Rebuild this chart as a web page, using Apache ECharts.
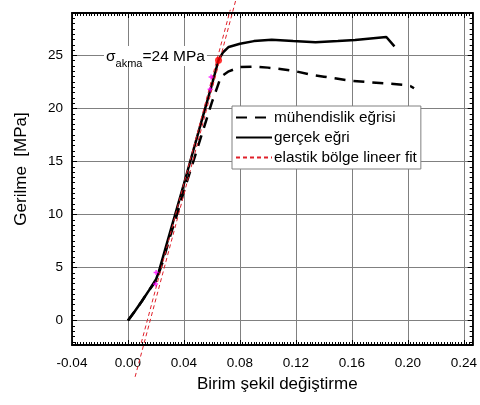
<!DOCTYPE html>
<html>
<head>
<meta charset="utf-8">
<script src="https://cdn.jsdelivr.net/npm/echarts@6/dist/echarts.min.js"></script>
<style>html,body{margin:0;padding:0;background:#fff;}#c{width:480px;height:405px;}</style>
</head>
<body>
<div id="c"></div>
<script>
// ---- data ----
const engStrain = [0, 0.005, 0.01, 0.015, 0.0203, 0.025, 0.03, 0.035, 0.04, 0.045, 0.05, 0.055, 0.06, 0.0635, 0.0664, 0.072, 0.08, 0.09, 0.1, 0.11, 0.12, 0.13, 0.14, 0.15, 0.16, 0.17, 0.18, 0.19, 0.198, 0.202, 0.2044];
const engStress = [0, 0.9, 1.85, 2.85, 3.8, 5.6, 7.9, 10.0, 12.2, 14.3, 16.4, 18.5, 20.6, 21.9, 23.0, 23.5, 23.9, 23.95, 23.85, 23.7, 23.5, 23.2, 23.0, 22.8, 22.6, 22.5, 22.4, 22.3, 22.2, 22.1, 21.9];
const trueStrain = [0, 0.005, 0.01, 0.015, 0.0201, 0.022, 0.03, 0.04, 0.05, 0.0605, 0.0647, 0.068, 0.072, 0.08, 0.09, 0.1027, 0.118, 0.134, 0.15, 0.1623, 0.1846, 0.1904];
const trueStress = [0, 0.9, 1.85, 2.85, 3.9, 4.6, 8.3, 12.9, 17.6, 22.5, 24.55, 25.3, 25.8, 26.1, 26.35, 26.48, 26.35, 26.25, 26.35, 26.45, 26.74, 25.85];
const fitAStrain = [0.0051, 0.0771];
const fitAStress = [-5.3, 30.25];
const fitBStrain = [0.0095, 0.0731];
const fitBStress = [-2.1, 29.3];
const yieldPoint = [0.0647, 24.55];
const fitRangeStrain = [0.0201, 0.0197, 0.0594, 0.0587];
const fitRangeStress = [4.53, 3.46, 22.96, 21.8];
const xTicks = [-0.04, 0.00, 0.04, 0.08, 0.12, 0.16, 0.20, 0.24];
const yTicks = [0, 5, 10, 15, 20, 25];
const seriesNames = ['mühendislik eğrisi', 'gerçek eğri', 'elastik bölge lineer fit'];
const xTitle = 'Birim şekil değiştirme';
const yTitle = 'Gerilme  [MPa]';

const pairs = (xs, ys) => xs.map((x, i) => [x, ys[i]]);
const FONT = 'Liberation Sans, Arial, sans-serif';
const X_MIN = -0.04, X_MAX = 0.2463, Y_MIN = -2.3, Y_MAX = 29.0;

function isTick(v, list) { return list.some(t => Math.abs(t - v) < 1e-6); }

const tickStyle = { show: true, inside: true, length: 5, lineStyle: { color: '#000', width: 1 } };
const minorX = { show: true, splitNumber: 20, length: 3, lineStyle: { color: '#000', width: 1 } };
const minorY = { show: true, splitNumber: 10, length: 3, lineStyle: { color: '#000', width: 1 } };
const axisLine = { show: true, onZero: false, lineStyle: { color: '#000', width: 1.8 } };

const option = {
  animation: false,
  backgroundColor: '#fff',
  grid: { left: 72, right: 0, top: 13, bottom: 60, containLabel: false },
  xAxis: [
    {
      type: 'value', min: X_MIN, max: X_MAX, interval: 0.04, position: 'bottom',
      axisLine: axisLine, axisTick: tickStyle, minorTick: minorX,
      splitLine: { show: true, lineStyle: { color: '#808080', width: 1 } },
      axisLabel: {
        show: true, margin: 11, color: '#000', fontFamily: FONT, fontSize: 13.5,
        formatter: v => isTick(v, xTicks) ? v.toFixed(2) : ''
      }
    },
    {
      type: 'value', min: X_MIN, max: X_MAX, interval: 0.04, position: 'top',
      axisLine: axisLine, axisTick: tickStyle, minorTick: minorX,
      splitLine: { show: false }, axisLabel: { show: false }
    }
  ],
  yAxis: [
    {
      type: 'value', min: Y_MIN, max: Y_MAX, position: 'left',
      axisLine: axisLine, axisTick: tickStyle, minorTick: minorY,
      splitLine: { show: true, lineStyle: { color: '#808080', width: 1 } },
      axisLabel: {
        show: true, margin: 9, color: '#000', fontFamily: FONT, fontSize: 13.5,
        formatter: v => isTick(v, yTicks) ? String(Math.round(v)) : ''
      }
    },
    {
      type: 'value', min: Y_MIN, max: Y_MAX, position: 'right',
      axisLine: axisLine, axisTick: tickStyle, minorTick: minorY,
      splitLine: { show: false }, axisLabel: { show: false }
    }
  ],
  legend: {
    data: seriesNames,
    orient: 'vertical', left: 232, top: 106,
    padding: [4, 4, 4, 3], itemGap: 5, itemWidth: 36, itemHeight: 14,
    backgroundColor: '#fff', borderColor: '#808080', borderWidth: 1, borderRadius: 0,
    selectedMode: false,
    itemStyle: { color: 'rgba(0,0,0,0)', borderColor: 'rgba(0,0,0,0)', borderWidth: 0 },
    textStyle: { color: '#000', fontFamily: FONT, fontSize: 15.3, padding: [0, 0, 0, -3] }
  },
  graphic: [
    {
      type: 'text', left: 104, top: 46, z: 100,
      style: {
        text: '{s|σ}{sub|akma}{s|=24 MPa}',
        backgroundColor: '#fff', padding: [1, 2, 1, 2],
        rich: {
          s: { fontFamily: FONT, fontSize: 15.5, fill: '#000', verticalAlign: 'bottom', lineHeight: 18 },
          sub: { fontFamily: FONT, fontSize: 11, fill: '#000', verticalAlign: 'bottom', lineHeight: 14, padding: [0, 0, -4, 0] }
        }
      }
    },
    {
      type: 'text', left: 197, top: 376, z: 100,
      style: { text: xTitle, fontFamily: FONT, fontSize: 17, fill: '#000' }
    },
    {
      type: 'text', z: 100, rotation: Math.PI / 2, x: 21, y: 169,
      style: { text: yTitle, fontFamily: FONT, fontSize: 17, fill: '#000', align: 'center', verticalAlign: 'middle' }
    }
  ],
  series: [
    {
      name: seriesNames[0], type: 'line', data: pairs(engStrain, engStress),
      symbol: 'none', smooth: false,
      lineStyle: { color: '#000', width: 2.5, type: [11, 8] },
      itemStyle: { color: '#000' }, z: 3
    },
    {
      name: seriesNames[1], type: 'line', data: pairs(trueStrain, trueStress),
      symbol: 'none', smooth: false,
      lineStyle: { color: '#000', width: 2.5 },
      itemStyle: { color: '#000' }, z: 4
    },
    {
      name: seriesNames[2], type: 'line', data: pairs(fitAStrain, fitAStress),
      symbol: 'none', clip: false,
      lineStyle: { color: '#e0202a', width: 1, type: [4, 3] },
      itemStyle: { color: '#e0202a' }, z: 5
    },
    {
      name: seriesNames[2], type: 'line', data: pairs(fitBStrain, fitBStress),
      symbol: 'none', clip: false,
      lineStyle: { color: '#e0202a', width: 1, type: [4, 3] },
      itemStyle: { color: '#e0202a' }, z: 5
    },
    {
      name: 'fit range', type: 'scatter', data: pairs(fitRangeStrain, fitRangeStress),
      symbol: 'path://M0,5L10,5M5,0L5,10', symbolSize: 5,
      itemStyle: { color: 'none', borderColor: '#ff00ff', borderWidth: 1.5 }, z: 6
    },
    {
      name: 'akma', type: 'scatter', data: [yieldPoint],
      symbol: 'circle', symbolSize: 7,
      itemStyle: { color: '#ff0000' }, z: 7
    }
  ]
};

const chart = echarts.init(document.getElementById('c'), null, { renderer: 'canvas' });
chart.setOption(option);
</script>
</body>
</html>
